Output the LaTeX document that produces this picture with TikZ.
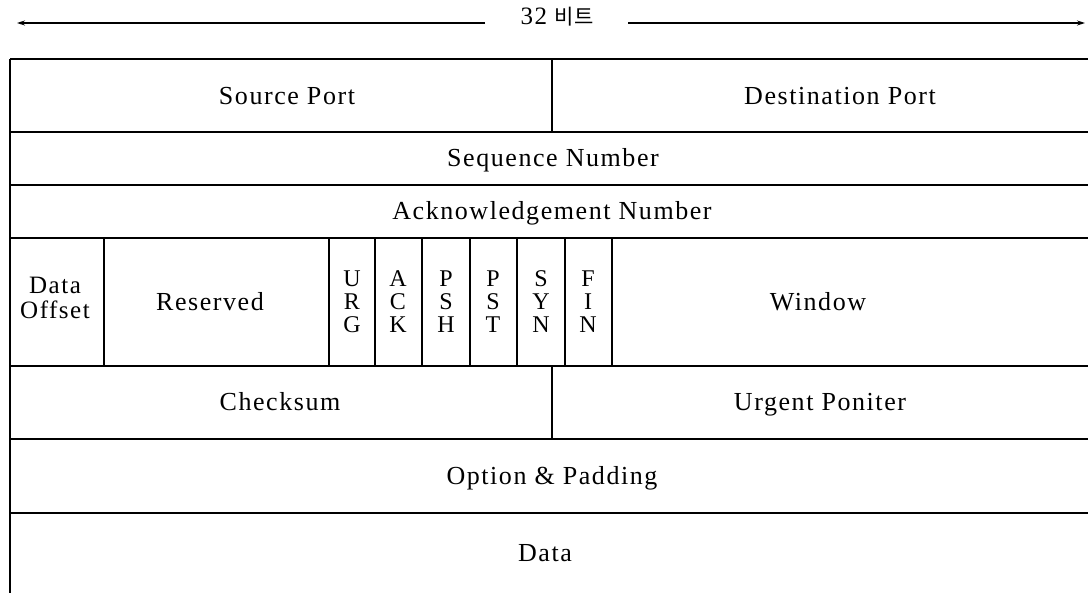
\documentclass[tikz,border=0pt]{standalone}
\usepackage{fontspec}
\setmainfont{Liberation Serif}[LetterSpace=6]
\newfontfamily\hangul{Noto Sans CJK KR}
\usetikzlibrary{arrows.meta}

\tikzset{
  rule/.style={line width=1.1pt, black},
  field/.style={font=\fontsize{26}{23}\selectfont, inner sep=0pt, align=center,
                text height=17pt, text depth=0pt},
  twoline/.style={font=\fontsize{25}{25}\selectfont, inner sep=0pt, align=center},
  flag/.style={font=\fontsize{24}{23}\selectfont, inner sep=0pt, align=center},
  span/.style={line width=1.1pt, -{Stealth[length=8pt,width=5pt]}}
}

\begin{document}
\begin{tikzpicture}[x=1pt,y=-1pt]
\useasboundingbox (0,0) rectangle (1088,593);

% width label with arrows to both sides
\node[inner sep=0pt, font=\fontsize{25}{25}\selectfont] (bits) at (557,17) {32 {\hangul\addfontfeatures{LetterSpace=0}\fontsize{21}{21}\selectfont 비트}};
\coordinate (leftend) at (17,23);
\coordinate (rightend) at (1085,23);
\coordinate (leftstart) at (485,23);
\coordinate (rightstart) at (628,23);
\draw[span] (leftstart) -- (leftend);
\draw[span] (rightstart) -- (rightend);

% row rules
\foreach \y in {59,132,185,238,366,439,513}
  \draw[rule] (10,\y) -- (1088,\y);
% left edge
\draw[rule] (10,59) -- (10,593);
% half-word dividers
\draw[rule] (552,59) -- (552,132);
\draw[rule] (552,366) -- (552,439);
% offset / reserved / flag dividers
\foreach \x in {104,329,375,422,470,517,565,612}
  \draw[rule] (\x,238) -- (\x,366);

% field names
\node[field] (srcport) at (287,96) {Source Port};
\node[field] (dstport) at (840,96) {Destination Port};
\node[field] (seq) at (553,158) {Sequence Number};
\node[field] (ack) at (552,211) {Acknowledgement Number};
\node[twoline] (offset) at (55,298) {Data\\Offset};
\node[field] (reserved) at (210,302) {Reserved};
\node[flag] (urg) at (352,302) {U\\R\\G};
\node[flag] (ackf) at (398,302) {A\\C\\K};
\node[flag] (psh) at (446,302) {P\\S\\H};
\node[flag] (pst) at (493,302) {P\\S\\T};
\node[flag] (syn) at (541,302) {S\\Y\\N};
\node[flag] (fin) at (588,302) {F\\I\\N};
\node[field] (window) at (818,302) {Window};
\node[field] (checksum) at (280,402) {Checksum};
\node[field] (urgent) at (820,402) {Urgent Poniter};
\node[field] (option) at (552,476) {Option \& Padding};
\node[field] (data) at (545,553) {Data};
\end{tikzpicture}
\end{document}
